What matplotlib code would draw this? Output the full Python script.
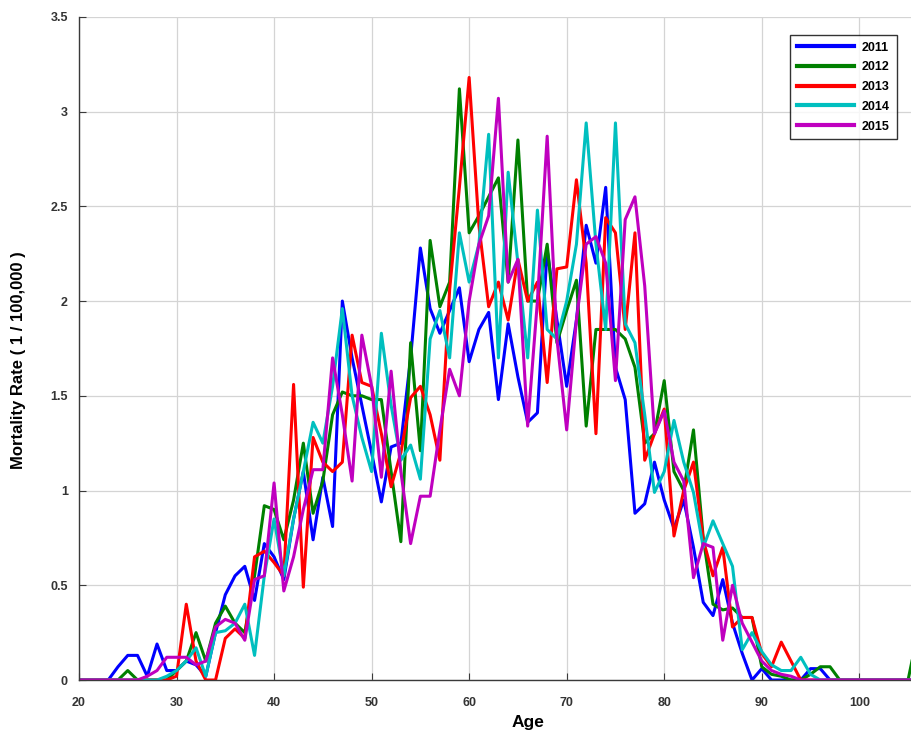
import matplotlib
matplotlib.use("Agg")
from matplotlib import pyplot as plt
from matplotlib.ticker import FormatStrFormatter

ages = list(range(20, 107))

rate_2011 = [0, 0, 0, 0, 0.07, 0.13, 0.13, 0.02, 0.19, 0.05,
             0.05, 0.10, 0.08, 0.02, 0.25, 0.45, 0.55, 0.60, 0.42, 0.72,
             0.65, 0.53, 0.85, 1.10, 0.74, 1.07, 0.81, 2.00, 1.70, 1.45,
             1.20, 0.94, 1.23, 1.25, 1.70, 2.28, 1.96, 1.83, 1.95, 2.07,
             1.68, 1.85, 1.94, 1.48, 1.88, 1.60, 1.36, 1.41, 2.27, 1.90,
             1.55, 1.90, 2.40, 2.20, 2.60, 1.65, 1.48, 0.88, 0.93, 1.15,
             0.95, 0.80, 0.95, 0.70, 0.41, 0.34, 0.53, 0.30, 0.14, 0.00,
             0.06, 0, 0, 0, 0, 0.06, 0.06, 0, 0, 0,
             0, 0, 0, 0, 0, 0, 0]

rate_2012 = [0, 0, 0, 0, 0, 0.05, 0, 0, 0, 0,
             0.05, 0.10, 0.25, 0.10, 0.30, 0.39, 0.30, 0.25, 0.55, 0.92,
             0.90, 0.74, 0.95, 1.25, 0.88, 1.05, 1.40, 1.52, 1.50, 1.50,
             1.48, 1.48, 1.10, 0.73, 1.78, 1.21, 2.32, 1.97, 2.10, 3.12,
             2.36, 2.45, 2.55, 2.65, 2.10, 2.85, 2.00, 2.00, 2.30, 1.78,
             1.95, 2.11, 1.34, 1.85, 1.85, 1.85, 1.80, 1.65, 1.25, 1.30,
             1.58, 1.10, 1.00, 1.32, 0.75, 0.40, 0.37, 0.38, 0.33, 0.33,
             0.07, 0.03, 0.02, 0, 0, 0.03, 0.07, 0.07, 0, 0,
             0, 0, 0, 0, 0, 0, 0.25]

rate_2013 = [0, 0, 0, 0, 0, 0, 0, 0, 0, 0,
             0.02, 0.40, 0.10, 0.00, 0.00, 0.22, 0.27, 0.22, 0.65, 0.68,
             0.62, 0.55, 1.56, 0.49, 1.28, 1.15, 1.10, 1.15, 1.82, 1.57,
             1.55, 1.30, 1.02, 1.20, 1.49, 1.55, 1.40, 1.16, 2.06, 2.60,
             3.18, 2.40, 1.97, 2.10, 1.90, 2.22, 2.00, 2.10, 1.57, 2.17,
             2.18, 2.64, 2.20, 1.30, 2.44, 2.36, 1.85, 2.36, 1.16, 1.30,
             1.43, 0.76, 1.00, 1.15, 0.74, 0.55, 0.70, 0.28, 0.33, 0.33,
             0.14, 0.07, 0.20, 0.10, 0, 0, 0, 0, 0, 0,
             0, 0, 0, 0, 0, 0, 0]

rate_2014 = [0, 0, 0, 0, 0, 0, 0, 0, 0, 0.02,
             0.05, 0.10, 0.17, 0.02, 0.25, 0.26, 0.30, 0.40, 0.13, 0.55,
             0.85, 0.55, 0.85, 1.10, 1.36, 1.25, 1.55, 1.96, 1.50, 1.28,
             1.10, 1.83, 1.45, 1.16, 1.24, 1.06, 1.80, 1.95, 1.70, 2.36,
             2.10, 2.30, 2.88, 1.70, 2.68, 2.20, 1.70, 2.48, 1.85, 1.80,
             2.00, 2.30, 2.94, 2.30, 1.85, 2.94, 1.88, 1.78, 1.40, 0.99,
             1.10, 1.37, 1.15, 0.99, 0.70, 0.84, 0.72, 0.60, 0.16, 0.25,
             0.15, 0.08, 0.05, 0.05, 0.12, 0.03, 0, 0, 0, 0,
             0, 0, 0, 0, 0, 0, 0]

rate_2015 = [0, 0, 0, 0, 0, 0, 0, 0.02, 0.05, 0.12,
             0.12, 0.12, 0.08, 0.10, 0.28, 0.32, 0.30, 0.21, 0.53, 0.55,
             1.04, 0.47, 0.65, 0.90, 1.11, 1.11, 1.70, 1.40, 1.05, 1.82,
             1.55, 1.07, 1.63, 1.10, 0.72, 0.97, 0.97, 1.32, 1.64, 1.50,
             2.00, 2.30, 2.45, 3.07, 2.10, 2.22, 1.34, 2.00, 2.87, 1.80,
             1.32, 1.90, 2.30, 2.34, 2.20, 1.58, 2.43, 2.55, 2.08, 1.30,
             1.42, 1.15, 1.05, 0.54, 0.72, 0.70, 0.21, 0.50, 0.30, 0.20,
             0.10, 0.05, 0.03, 0.02, 0, 0, 0, 0, 0, 0,
             0, 0, 0, 0, 0, 0, 0]

years = ["2011", "2012", "2013", "2014", "2015"]
x_ticks = [20, 30, 40, 50, 60, 70, 80, 90, 100]
y_ticks = [0, 0.5, 1, 1.5, 2, 2.5, 3, 3.5]


def main():
    series = [rate_2011, rate_2012, rate_2013, rate_2014, rate_2015]
    colors = ["b", "g", "r", "c", "m"]

    fig = plt.figure(figsize=(9.11, 7.41), dpi=100)
    ax = fig.add_axes([0.0867, 0.0823, 0.9133, 0.895])

    for rates, year, color in zip(series, years, colors):
        ax.plot(ages, rates, color=color, lw=2.2, label=year)

    ax.set_xlim(20, 105.3)
    ax.set_ylim(0, 3.5)
    ax.set_xticks(x_ticks)
    ax.set_yticks(y_ticks)
    ax.yaxis.set_major_formatter(FormatStrFormatter("%g"))
    ax.grid(True, color="#d4d4d4", lw=0.9)
    ax.set_axisbelow(True)

    for side in ["top", "right"]:
        ax.spines[side].set_visible(False)
    for side in ["left", "bottom"]:
        ax.spines[side].set_color("#3a3a3a")
        ax.spines[side].set_linewidth(1.0)

    ax.tick_params(direction="in", length=5, color="#3a3a3a",
                   labelsize=9, labelcolor="#333333")
    ax.tick_params(axis="x", pad=12)
    ax.tick_params(axis="y", pad=8)
    for lbl in ax.get_xticklabels() + ax.get_yticklabels():
        lbl.set_fontweight("bold")
        lbl.set_family("Liberation Sans")

    ax.set_xlabel("Age", fontsize=12.5, fontweight="bold",
                  family="Liberation Sans")
    ax.set_ylabel("Mortality Rate ( 1 / 100,000 )", fontsize=12,
                  fontweight="bold", family="Liberation Sans")
    ax.xaxis.set_label_coords(0.54, -0.052)
    ax.yaxis.set_label_coords(-0.064, 0.483)

    leg = ax.legend(loc="upper right", bbox_to_anchor=(0.983, 0.973),
                    borderaxespad=0, fancybox=False, handlelength=4.6,
                    labelspacing=0.62, handletextpad=0.6,
                    borderpad=0.55,
                    prop={"family": "Liberation Sans", "weight": "bold",
                          "size": 9})
    leg.get_frame().set_edgecolor("black")
    leg.get_frame().set_linewidth(1.0)
    for line in leg.get_lines():
        line.set_linewidth(3)

    fig.savefig("out.png", dpi=100)


if __name__ == "__main__":
    main()
